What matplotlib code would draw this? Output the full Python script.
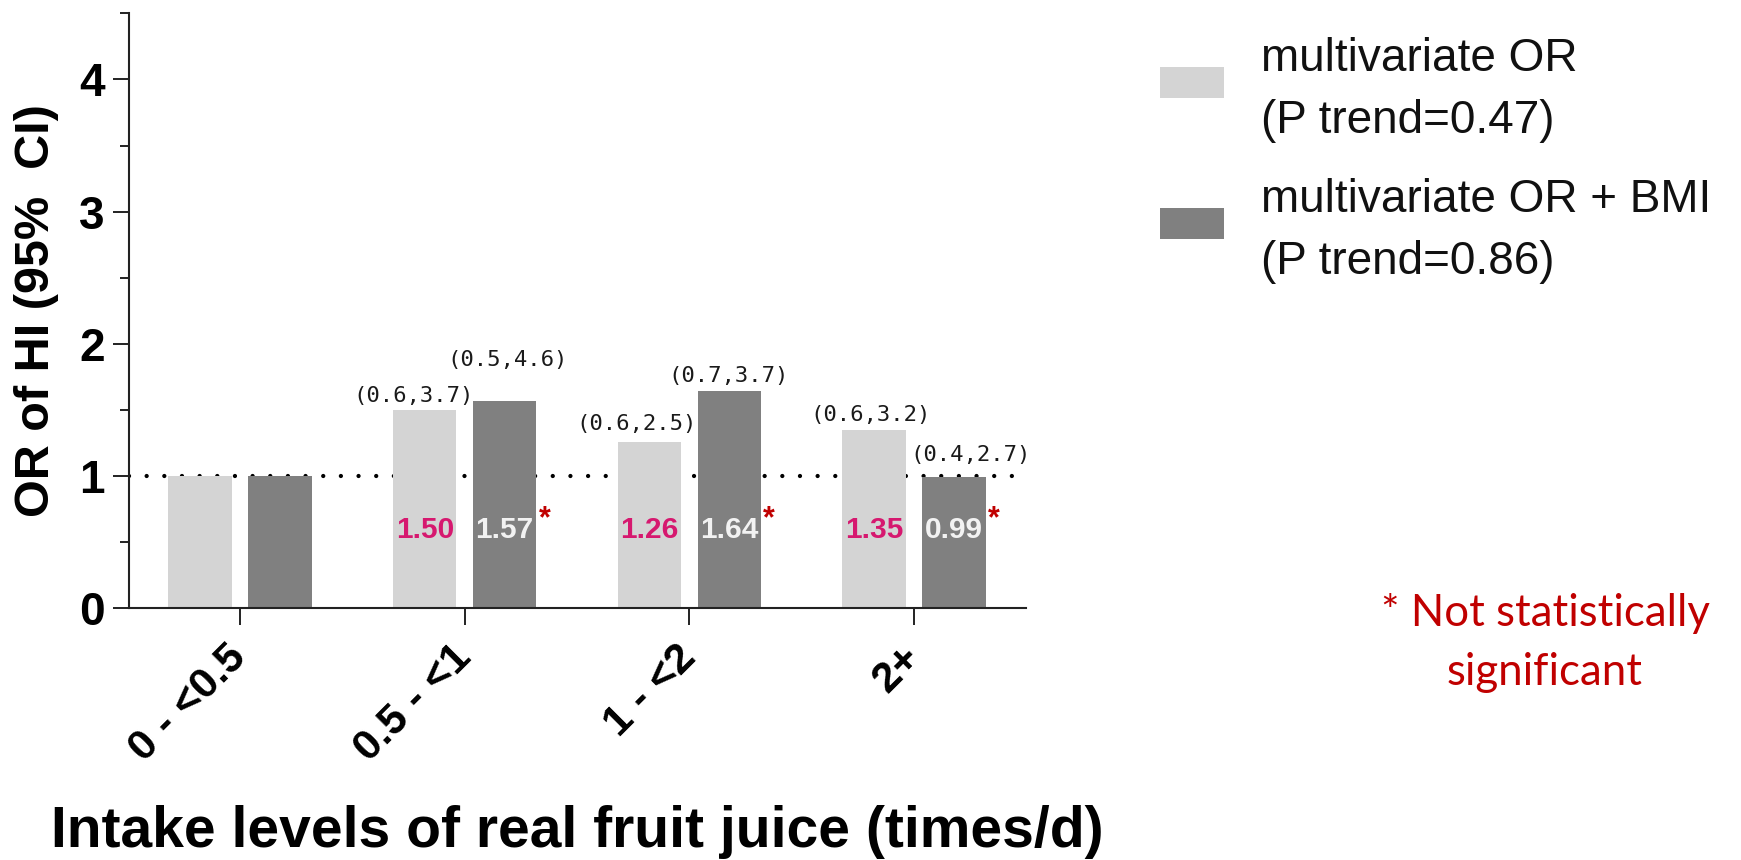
import matplotlib
matplotlib.use('Agg')
import matplotlib.pyplot as plt
import numpy as np
from matplotlib.ticker import MultipleLocator
from matplotlib.legend_handler import HandlerPatch
from matplotlib.patches import Rectangle

# ---------------- data ----------------
categories = ['0 - <0.5', '0.5 - <1', '1 - <2', '2+']
or_multi = [1.00, 1.50, 1.26, 1.35]
or_bmi = [1.00, 1.57, 1.64, 0.99]
ci_multi = [None, '(0.6,3.7)', '(0.6,2.5)', '(0.6,3.2)']
ci_bmi = [None, '(0.5,4.6)', '(0.7,3.7)', '(0.4,2.7)']
value_multi = [None, '1.50', '1.26', '1.35']
value_bmi = [None, '1.57', '1.64', '0.99']
not_significant = [False, True, True, True]
series_labels = ['multivariate OR\n(P trend=0.47)',
                 'multivariate OR + BMI\n(P trend=0.86)']
reference_or = 1.0
y_ticks = [0, 1, 2, 3, 4]

# ---------------- layout / style ----------------
ci_multi_offsets = [None, (-8, 6), (-9, 8.5), (-2.5, 6.5)]   # points
ci_bmi_offsets = [None, (2, 25), (-0.5, 6.5), (11.5, 12)]    # points
light = '#D4D4D4'
dark = '#808080'
magenta = '#D6186F'
red = '#C00000'

plt.rcParams['font.family'] = ['Liberation Sans', 'DejaVu Sans']

fig = plt.figure(figsize=(17.41, 8.6), dpi=100)
ax = fig.add_axes([0.07427, 0.29267, 0.51505, 0.69186])

x = np.arange(len(categories))
off = 0.178
w = 0.282

ax.axhline(reference_or, color='black', lw=3.1, linestyle=(0, (0.001, 4.1)),
           dash_capstyle='round', zorder=0.5)

b1 = ax.bar(x - off, or_multi, width=w, color=light, zorder=2, label=series_labels[0])
b2 = ax.bar(x + off, or_bmi, width=w, color=dark, zorder=2, label=series_labels[1])

for i in range(len(categories)):
    if ci_multi[i]:
        ax.annotate(ci_multi[i], (x[i] - off, or_multi[i]), xytext=ci_multi_offsets[i],
                    textcoords='offset points', ha='center', va='baseline',
                    fontsize=16, family='DejaVu Sans Mono', color='#1a1a1a', zorder=5)
    if ci_bmi[i]:
        ax.annotate(ci_bmi[i], (x[i] + off, or_bmi[i]), xytext=ci_bmi_offsets[i],
                    textcoords='offset points', ha='center', va='baseline',
                    fontsize=16, family='DejaVu Sans Mono', color='#1a1a1a', zorder=5)
    if value_multi[i]:
        ax.text(x[i] - off, 0.53, value_multi[i], ha='center', va='baseline',
                fontsize=21.5, fontweight='bold', color=magenta, zorder=5)
    if value_bmi[i]:
        ax.text(x[i] + off, 0.53, value_bmi[i], ha='center', va='baseline',
                fontsize=21.5, fontweight='bold', color='#F2F2F2', zorder=5)
    if not_significant[i]:
        ax.text(x[i] + off + w / 2 + 0.036, 0.61, '*', ha='center', va='baseline',
                fontsize=22, fontweight='bold', color=red, zorder=5)

ax.set_xlim(-0.493, 3.498)
ax.set_ylim(0, 4.5)
ax.set_yticks(y_ticks)
ax.yaxis.set_minor_locator(MultipleLocator(0.5))
ax.set_xticks(x)
ax.set_xticklabels(categories, rotation=45, ha='right', va='center',
                   rotation_mode='anchor', fontsize=31, fontweight='bold')
for t in ax.get_yticklabels():
    t.set_fontweight('bold')
    t.set_fontsize(33)

for s in ['top', 'right']:
    ax.spines[s].set_visible(False)
for s in ['left', 'bottom']:
    ax.spines[s].set_linewidth(1.5)
    ax.spines[s].set_color('#222222')

ax.tick_params(axis='y', which='major', length=11.5, width=1.4, pad=6.3, color='#222222')
ax.tick_params(axis='y', which='minor', length=6.5, width=1.4, color='#222222')
ax.tick_params(axis='x', which='major', length=12.5, width=1.4, pad=18.5, color='#222222')

ax.set_ylabel('OR of HI (95%  CI)', fontsize=35, fontweight='bold')
ax.yaxis.label.set_verticalalignment('center')
ax.yaxis.set_label_coords(-0.104, 0.5)

ax.set_xlabel('Intake levels of real fruit juice (times/d)', fontsize=41, fontweight='bold')
ax.xaxis.label.set_verticalalignment('baseline')
ax.xaxis.set_label_coords(0.5, -0.401)


def raised_patch(legend, orig_handle, xdescent, ydescent, width, height, fontsize):
    # swatch sits slightly above the centre of the two-line label
    return Rectangle((-xdescent, -ydescent + 6), width, height)


leg = fig.legend(handles=[b1.patches[0], b2.patches[0]], labels=series_labels,
                 loc='upper left', bbox_to_anchor=(0.6663, 0.957), frameon=False,
                 fontsize=33, handlelength=1.4, handleheight=0.655, handletextpad=0.81,
                 labelspacing=0.78, borderpad=0, borderaxespad=0,
                 handler_map={Rectangle: HandlerPatch(patch_func=raised_patch)})
for t in leg.get_texts():
    t.set_linespacing(1.52)
    t.set_color('#111111')

fig.text(0.8874, 1 - 685 / 860, '* Not statistically\nsignificant', ha='center',
         va='baseline', multialignment='center', fontsize=31.5, family='Lato',
         color=red, linespacing=1.55)

fig.savefig('out.png', dpi=100)
